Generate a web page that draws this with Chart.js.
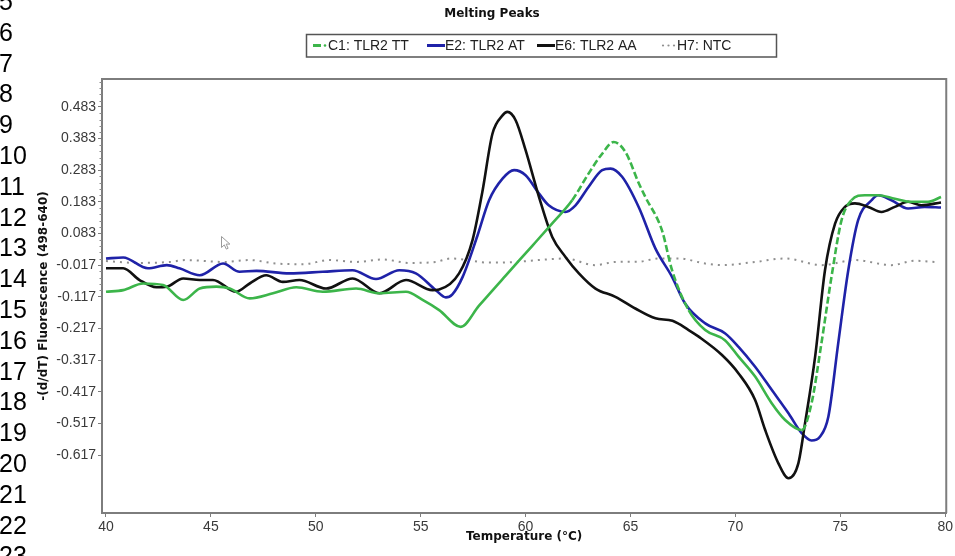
<!DOCTYPE html>
<html><head><meta charset="utf-8">
<script src="https://cdn.jsdelivr.net/npm/chart.js@4"></script>
<style>html,body{margin:0;padding:0;background:#fff;overflow:hidden}</style>
</head><body>
<canvas id="c" width="955" height="556"></canvas>
<script>
// ---------------- data ----------------
const chartTitle = 'Melting Peaks';
const xAxisTitle = 'Temperature (°C)';
const yAxisTitle = '-(d/dT) Fluorescence (498-640)';
const seriesLabels = ['C1: TLR2 TT', 'E2: TLR2 AT', 'E6: TLR2 AA', 'H7: NTC'];
const docLineNumbers = [5,6,7,8,9,10,11,12,13,14,15,16,17,18,19,20,21,22,23];

const xTickValues = [40,45,50,55,60,65,70,75,80];
const yTickValues = [0.483,0.383,0.283,0.183,0.083,-0.017,-0.117,-0.217,-0.317,-0.417,-0.517,-0.617];
const yTickLabels = ['0.483','0.383','0.283','0.183','0.083','-0.017','-0.117','-0.217','-0.317','-0.417','-0.517','-0.617'];

const c1Temp = [40.0,40.82,41.77,42.72,43.68,44.47,45.26,45.9,46.85,47.96,49.07,50.33,51.92,53.03,54.3,55.09,55.88,56.91,57.78,59.05,60.32,61.27,62.22,63.0,63.65,64.2,64.76,65.4,65.71,66.5,66.98,67.77,68.56,69.5,70.15,70.94,71.73,72.37,73.16,73.63,74.1,74.58,75.06,75.53,76.17,76.8,77.6,78.39,79.18,79.8];
const c1Val  = [-0.101,-0.096,-0.075,-0.080,-0.127,-0.091,-0.085,-0.091,-0.122,-0.106,-0.087,-0.101,-0.091,-0.106,-0.101,-0.127,-0.159,-0.212,-0.145,-0.050,0.044,0.115,0.188,0.272,0.335,0.372,0.340,0.241,0.198,0.093,-0.033,-0.159,-0.222,-0.254,-0.306,-0.369,-0.453,-0.506,-0.538,-0.453,-0.264,-0.054,0.125,0.188,0.204,0.204,0.193,0.183,0.183,0.198];

const e2Temp = [40.0,40.82,42.0,42.9,43.5,44.47,45.58,46.37,47.17,48.75,50.33,51.75,52.87,53.98,54.77,55.72,56.2,56.5,57.0,57.7,58.26,58.9,59.45,60.0,60.64,61.1,61.9,62.38,63.0,63.65,64.05,64.6,65.4,66.19,66.98,67.6,68.56,69.5,70.15,70.94,71.73,72.53,73.16,73.63,74.03,74.43,74.9,75.38,75.85,76.49,76.8,77.44,78.23,79.02,79.8];
const e2Val  = [0.004,0.007,-0.027,-0.017,-0.027,-0.049,-0.012,-0.038,-0.035,-0.043,-0.038,-0.033,-0.061,-0.033,-0.043,-0.096,-0.119,-0.110,-0.054,0.075,0.188,0.256,0.283,0.267,0.209,0.172,0.151,0.172,0.230,0.283,0.288,0.262,0.165,0.035,-0.054,-0.138,-0.201,-0.232,-0.275,-0.338,-0.411,-0.485,-0.548,-0.571,-0.559,-0.496,-0.264,-0.033,0.125,0.188,0.204,0.188,0.162,0.167,0.165];

const e6Temp = [40.0,40.82,41.6,42.4,42.9,43.68,44.47,45.1,46.2,46.85,47.64,48.43,49.22,50.49,51.76,53.03,54.3,55.56,55.88,56.83,57.47,57.94,58.42,58.9,59.13,59.53,60.0,60.64,61.27,61.9,62.54,63.33,64.28,65.23,66.19,67.0,67.77,68.25,69.36,70.15,70.94,71.42,72.05,72.53,73.0,73.32,73.8,74.27,74.75,75.22,75.7,76.33,76.96,77.6,78.23,78.86,79.8];
const e6Val  = [-0.027,-0.027,-0.064,-0.087,-0.085,-0.059,-0.064,-0.064,-0.101,-0.075,-0.049,-0.070,-0.064,-0.091,-0.059,-0.106,-0.064,-0.096,-0.094,-0.043,0.062,0.215,0.398,0.456,0.467,0.440,0.346,0.198,0.072,0.009,-0.043,-0.091,-0.117,-0.154,-0.185,-0.193,-0.222,-0.243,-0.301,-0.359,-0.443,-0.538,-0.643,-0.690,-0.643,-0.516,-0.306,-0.033,0.114,0.167,0.178,0.167,0.151,0.167,0.183,0.172,0.181];

const h7Temp = [40.0,41.5,43.04,43.8,45.6,46.85,48.1,49.4,50.65,51.9,53.19,54.45,55.7,56.45,58.26,59.5,60.6,61.9,63.3,64.3,65.4,66.35,67.3,68.56,69.36,70.94,72.37,74.1,75.7,77.44,78.55,79.5];
const h7Val  = [-0.004,-0.010,-0.007,-0.001,-0.007,-0.001,-0.012,-0.014,-0.001,-0.007,0.001,-0.010,-0.007,0.004,-0.009,-0.007,-0.001,0.004,-0.017,-0.007,-0.006,0.004,0.004,-0.012,-0.017,-0.007,0.004,-0.017,-0.001,-0.017,-0.003,-0.007];

// ---------------- style ----------------
const COLORS = ['#3cb54a', '#1f22a8', '#111111', '#8f8f8f'];
const C1_DASHED_SPANS = [[62.3, 67.5], [73.3, 75.6]];
const AXIS_COLOR = '#7d7d7d';
const TICK_FONT = {family: '"Liberation Sans", Arial, sans-serif', size: 14};
const BOLD_FONT = {family: '"DejaVu Sans", Verdana, sans-serif', size: 12, weight: 'bold'};

const pts = (xs, ys) => xs.map((x, i) => ({x, y: ys[i]}));

function inDashSpan(t0, t1) {
  const m = (t0 + t1) / 2;
  return C1_DASHED_SPANS.some(s => m >= s[0] && m <= s[1]);
}

const decor = {
  id: 'decor',
  beforeDraw(chart) {
    const ctx = chart.ctx;
    ctx.save();
    ctx.fillStyle = '#fff';
    ctx.fillRect(0, 0, chart.width, chart.height);
    ctx.restore();
  },
  afterDraw(chart) {
    const ctx = chart.ctx;
    const a = chart.chartArea;
    ctx.save();
    // top/right frame
    ctx.strokeStyle = AXIS_COLOR;
    ctx.lineWidth = 2;
    ctx.beginPath();
    ctx.moveTo(a.left, a.top); ctx.lineTo(a.right, a.top); ctx.lineTo(a.right, a.bottom);
    ctx.stroke();
    // minor ticks on y axis
    const ys = chart.scales.y;
    ctx.lineWidth = 1;
    ctx.strokeStyle = '#8a8a8a';
    for (let k = -30; k <= 30; k++) {
      const v = 0.483 + k * 0.02;
      if (v < ys.min || v > ys.max) continue;
      if (k % 5 === 0) continue;
      const py = Math.round(ys.getPixelForValue(v)) + 0.5;
      ctx.beginPath(); ctx.moveTo(a.left - 2.5, py); ctx.lineTo(a.left, py); ctx.stroke();
    }
    // document line numbers
    ctx.fillStyle = '#000';
    ctx.font = '25px "Liberation Sans", Arial, sans-serif';
    ctx.textAlign = 'left';
    ctx.textBaseline = 'alphabetic';
    docLineNumbers.forEach(n => {
      ctx.fillText(String(n), -1, 31.7 + (n - 6) * 30.8 + 9);
    });
    // title
    ctx.fillStyle = '#111';
    ctx.font = 'bold 12px "DejaVu Sans", Verdana, sans-serif';
    ctx.textAlign = 'center';
    ctx.textBaseline = 'middle';
    ctx.fillText(chartTitle, 492, 14);
    // legend box
    ctx.strokeStyle = '#555';
    ctx.lineWidth = 1.5;
    ctx.strokeRect(306.5, 34.5, 470, 22.5);
    ctx.font = '14px "Liberation Sans", Arial, sans-serif';
    ctx.textAlign = 'left';
    ctx.fillStyle = '#222';
    const ly = 45.5;
    // green: dash + dot
    ctx.strokeStyle = COLORS[0]; ctx.lineWidth = 3;
    ctx.beginPath(); ctx.moveTo(313, ly); ctx.lineTo(321, ly); ctx.stroke();
    ctx.fillStyle = COLORS[0];
    ctx.beginPath(); ctx.arc(325, ly, 1.3, 0, Math.PI * 2); ctx.fill();
    ctx.fillStyle = '#222'; ctx.fillText(seriesLabels[0], 328, ly + 1);
    // blue
    ctx.strokeStyle = COLORS[1]; ctx.lineWidth = 3;
    ctx.beginPath(); ctx.moveTo(427, ly); ctx.lineTo(445, ly); ctx.stroke();
    ctx.fillText(seriesLabels[1], 445, ly + 1);
    // black
    ctx.strokeStyle = COLORS[2]; ctx.lineWidth = 3;
    ctx.beginPath(); ctx.moveTo(537, ly); ctx.lineTo(555, ly); ctx.stroke();
    ctx.fillText(seriesLabels[2], 555, ly + 1);
    // gray dots
    ctx.fillStyle = COLORS[3];
    [663, 668.5, 674].forEach(x => { ctx.beginPath(); ctx.arc(x, ly, 1.1, 0, Math.PI * 2); ctx.fill(); });
    ctx.fillStyle = '#222'; ctx.fillText(seriesLabels[3], 677, ly + 1);
    // mouse cursor (screenshot artefact)
    ctx.translate(221.5, 236.5);
    ctx.beginPath();
    ctx.moveTo(0, 0); ctx.lineTo(0, 11); ctx.lineTo(2.8, 8.4); ctx.lineTo(4.8, 12.6);
    ctx.lineTo(6.6, 11.8); ctx.lineTo(4.7, 7.6); ctx.lineTo(8.4, 7.6); ctx.closePath();
    ctx.fillStyle = '#fff'; ctx.fill();
    ctx.strokeStyle = '#9a9a9a'; ctx.lineWidth = 1; ctx.stroke();
    ctx.restore();
  }
};

new Chart(document.getElementById('c'), {
  type: 'line',
  data: {
    datasets: [
      {label: seriesLabels[0], data: pts(c1Temp, c1Val), borderColor: COLORS[0], borderWidth: 2.6, order: 1,
       segment: {borderDash: ctx => inDashSpan(c1Temp[ctx.p0DataIndex], c1Temp[ctx.p1DataIndex]) ? [7, 3] : undefined}},
      {label: seriesLabels[1], data: pts(e2Temp, e2Val), borderColor: COLORS[1], borderWidth: 2.6, order: 3},
      {label: seriesLabels[2], data: pts(e6Temp, e6Val), borderColor: COLORS[2], borderWidth: 2.6, order: 2},
      {label: seriesLabels[3], data: pts(h7Temp, h7Val), borderColor: COLORS[3], borderWidth: 2, borderDash: [2, 5], order: 4}
    ]
  },
  options: {
    responsive: false,
    animation: false,
    devicePixelRatio: 1,
    layout: {padding: {top: 79, right: 7, bottom: 0, left: 0}},
    elements: {point: {radius: 0}, line: {cubicInterpolationMode: 'monotone'}},
    plugins: {legend: {display: false}, title: {display: false}, tooltip: {enabled: false}},
    scales: {
      x: {
        type: 'linear', min: 39.81, max: 80.05,
        afterBuildTicks: s => { s.ticks = xTickValues.map(v => ({value: v})); },
        afterFit: s => { s.height = 43; },
        grid: {display: true, drawOnChartArea: false, drawTicks: true, tickLength: 4, color: AXIS_COLOR},
        border: {display: true, color: AXIS_COLOR, width: 2},
        ticks: {font: TICK_FONT, color: '#3a3a3a', padding: 2, maxRotation: 0, autoSkip: false, callback: v => String(v)},
        title: {display: true, text: xAxisTitle, font: BOLD_FONT, color: '#111', padding: {top: 0, bottom: 12}}
      },
      y: {
        type: 'linear', min: -0.8, max: 0.571,
        afterBuildTicks: s => { s.ticks = yTickValues.map(v => ({value: v})); },
        afterFit: s => { s.width = 102; },
        grid: {display: true, drawOnChartArea: false, drawTicks: true, tickLength: 4, color: AXIS_COLOR},
        border: {display: true, color: AXIS_COLOR, width: 2},
        ticks: {font: TICK_FONT, color: '#3a3a3a', padding: 2, autoSkip: false, callback: (v, i) => yTickLabels[i]},
        title: {display: true, text: yAxisTitle, font: BOLD_FONT, color: '#111', padding: {top: 37, bottom: 0}}
      }
    }
  },
  plugins: [decor]
});
</script>
</body></html>
